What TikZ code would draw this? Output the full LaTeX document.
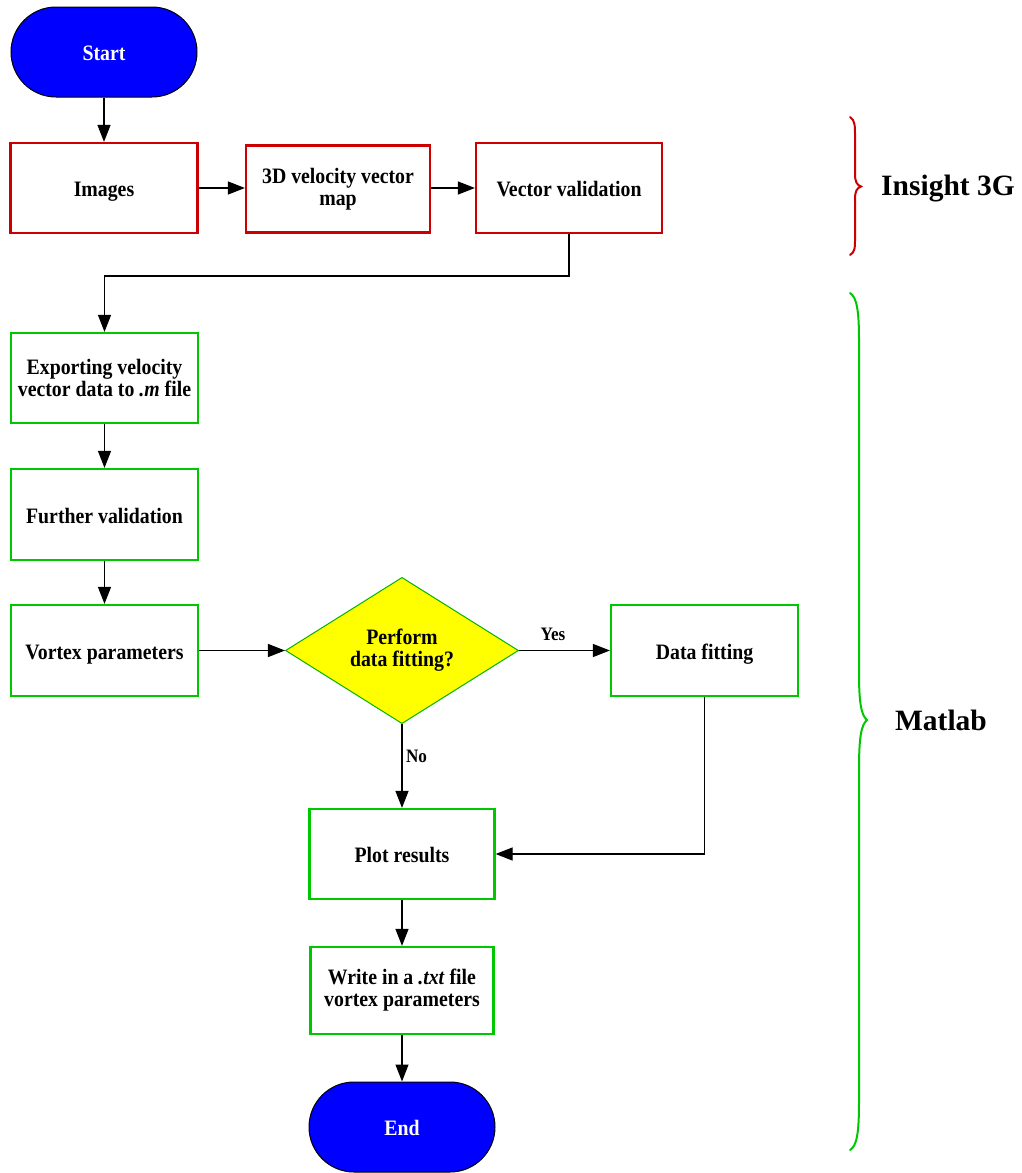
\documentclass[tikz,border=0pt]{standalone}
\usepackage{fontspec}
\setmainfont{Liberation Serif}
\newfontfamily\narrowserif[FakeStretch=0.9]{Liberation Serif}
\usetikzlibrary{arrows.meta,shapes.geometric}
\definecolor{insred}{RGB}{204,0,0}
\definecolor{matgreen}{RGB}{0,200,0}
\definecolor{termblue}{RGB}{0,0,255}
\definecolor{decyellow}{RGB}{255,255,0}
\begin{document}
\begin{tikzpicture}[x=1pt,y=-1pt,
  boxtext/.style={font=\narrowserif\fontsize{22}{22}\selectfont\bfseries, align=center, inner sep=0pt},
  oneline/.style={text height=17pt, text depth=0pt},
  redbox/.style={boxtext, draw=insred, line width=2.2pt, fill=white},
  greenbox/.style={boxtext, draw=matgreen, line width=2.2pt, fill=white},
  terminal/.style={boxtext, oneline, draw=black, line width=1pt, fill=termblue, text=white,
    rounded corners=45pt, minimum width=186pt, minimum height=90pt},
  decision/.style={boxtext, diamond, draw=matgreen!90!black, line width=1pt, fill=decyellow,
    minimum width=233pt, minimum height=135pt},
  arr/.style={draw=black, line width=1.2pt, -{Triangle[length=17pt,width=13pt]}},
  edgelabel/.style={font=\narrowserif\fontsize{19}{21}\selectfont\bfseries, inner sep=0pt},
  bracelabel/.style={font=\fontsize{29.5}{32}\selectfont\bfseries, inner sep=0pt}
]
\useasboundingbox (0,0) rectangle (1021,1173);

% Insight 3G stage
\node[terminal] (start) at (104,52) {Start};
\node[redbox, oneline, minimum width=187pt, minimum height=90pt] (images) at (104,188) {Images};
\node[redbox, minimum width=184pt, minimum height=87pt] (vmap) at (338,189) {3D velocity vector\\map};
\node[redbox, oneline, minimum width=186pt, minimum height=90pt] (vval) at (569,188) {Vector validation};

% Matlab stage
\node[greenbox, minimum width=187pt, minimum height=90pt] (export) at (104.5,378) {Exporting velocity\\vector data to \textit{.m} file};
\node[greenbox, oneline, minimum width=187pt, minimum height=91pt] (further) at (104.5,514.5) {Further validation};
\node[greenbox, oneline, minimum width=187pt, minimum height=91pt] (vortex) at (104.5,650.5) {Vortex parameters};
\node[decision] (fit) at (402,650.5) {Perform\\data fitting?};
\node[greenbox, oneline, minimum width=187pt, minimum height=91pt] (datafit) at (704.5,650.5) {Data fitting};
\node[greenbox, oneline, minimum width=185pt, minimum height=90pt] (plot) at (402,854) {Plot results};
\node[greenbox, minimum width=183pt, minimum height=87pt] (write) at (402,990.5) {Write in a \textit{.txt} file\\vortex parameters};
\node[terminal] (end) at (402,1127) {End};

% Connectors
\draw[arr] (start) -- (images);
\draw[arr] (images) -- (vmap.west |- images.east);
\draw[arr] (vmap.east |- vval.west) -- (vval);
\draw[arr] (vval.south) |- (104.5,276) -- (export.north);
\draw[arr] (export) -- (further);
\draw[arr] (further) -- (vortex);
\draw[arr] (vortex) -- (fit);
\draw[arr] (fit.east) -- (datafit.west);
\draw[arr] (fit.south) -- (plot.north);
\draw[arr] (datafit.south) |- (plot.east);
\draw[arr] (plot) -- (write);
\draw[arr] (write) -- (end);

\node[edgelabel] (yes) at (553,634) {Yes};
\node[edgelabel] (no) at (416.5,756) {No};

% Stage braces
\draw[insred, line width=2pt, line cap=round]
  (850,117) .. controls (855,120) and (855,126) .. (855,136) -- (855,174)
  .. controls (855,182) and (857,185) .. (861,186.5)
  .. controls (857,188) and (855,191) .. (855,199) -- (855,238)
  .. controls (855,248) and (855,252) .. (850,255);
\node[bracelabel] (insight) at (948,188.5) {Insight 3G};

\draw[matgreen, line width=2pt, line cap=round]
  (850,293) .. controls (857,297) and (859,312) .. (859,340) -- (859,672)
  .. controls (859,702) and (861,715) .. (867,720)
  .. controls (861,725) and (859,738) .. (859,770) -- (859,1102)
  .. controls (859,1132) and (857,1146) .. (850,1150);
\node[bracelabel] (matlab) at (941,720) {Matlab};
\end{tikzpicture}
\end{document}
